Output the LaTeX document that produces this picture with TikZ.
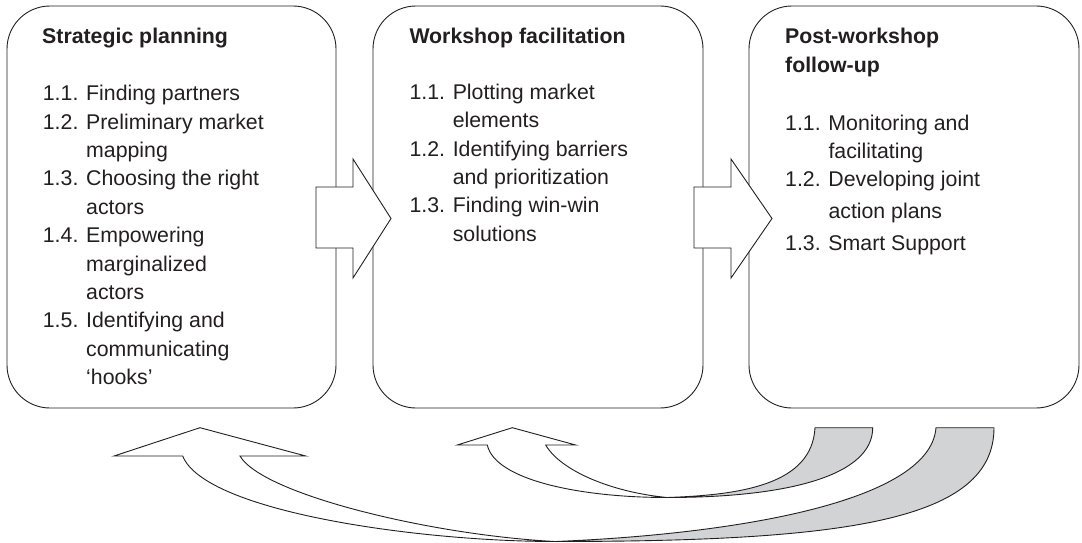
\documentclass[tikz,border=0pt]{standalone}
\usepackage{fontspec}
\setmainfont{Liberation Sans}
\usepackage{array}
\definecolor{ink}{HTML}{231F20}
\definecolor{bandgray}{HTML}{D1D3D4}
\begin{document}
\begin{tikzpicture}[x=1pt,y=-1pt,
  stagebox/.style={draw=ink, line width=0.9pt, rounded corners=43pt, inner sep=0pt, fill=white},
  blockarrow/.style={draw=ink, line width=0.9pt, fill=white, line join=miter},
  bandfront/.style={draw=ink, line width=0.9pt, fill=white, line join=miter},
  bandback/.style={draw=ink, line width=0.9pt, fill=bandgray, line join=miter},
  heading/.style={anchor=base west, inner sep=0pt, text=ink,
    font=\bfseries\fontsize{21.3}{29.4}\selectfont},
  steps/.style={anchor=base west, inner sep=0pt, text=ink,
    font=\fontsize{21.3}{28.4}\selectfont}]
\useasboundingbox (0,0) rectangle (1082,543);

% the three stages
\node[stagebox, minimum width=329pt, minimum height=402pt] (plan) at (171.5,207) {};
\node[stagebox, minimum width=330pt, minimum height=402pt] (work) at (538,207) {};
\node[stagebox, minimum width=330pt, minimum height=402pt] (post) at (914,207) {};

% headings
\node[heading] (planhead) at (42,43.3) {Strategic planning};
\node[heading] (workhead) at (409.3,43.3) {Workshop facilitation};
\node[heading] (posthead) at (785,43.3)
  {\begin{tabular}[t]{@{}l@{}}Post-workshop\\follow-up\end{tabular}};

% step lists
\node[steps] (planlist) at (42.7,100.7) {\begin{tabular}[t]{@{}p{43.3pt}@{}l@{}}
1.1. & Finding partners\\
1.2. & Preliminary market\\
     & mapping\\
1.3. & Choosing the right\\
     & actors\\
1.4. & Empowering\\
     & marginalized\\
     & actors\\
1.5. & Identifying and\\
     & communicating\\
     & ‘hooks’
\end{tabular}};

\node[steps] (worklist) at (409.3,99.3) {\begin{tabular}[t]{@{}p{43.3pt}@{}l@{}}
1.1. & Plotting market\\
     & elements\\
1.2. & Identifying barriers\\
     & and prioritization\\
1.3. & Finding win-win\\
     & solutions
\end{tabular}};

\node[steps] (postlist) at (785,130) {\begin{tabular}[t]{@{}p{43.3pt}@{}l@{}}
1.1. & Monitoring and\\
     & facilitating\\
1.2. & Developing joint\\[3.3pt]
     & action plans\\[3.3pt]
1.3. & Smart Support
\end{tabular}};

% block arrows between the stages
\draw[blockarrow] (316,187) -- (353,187) -- (353,159) -- (391,218.5)
  -- (353,278) -- (353,248) -- (316,248) -- cycle;
\draw[blockarrow] (694,187) -- (731,187) -- (731,159) -- (772,218.5)
  -- (731,278) -- (731,248) -- (694,248) -- cycle;

% long return ribbon: shaded back half, then white front half with head
\draw[bandback] (555,541.5) .. controls (850,541.5) and (994,520) .. (994,427.7)
  -- (936,427.7) .. controls (930,505) and (720,535) .. (555,541.5) -- cycle;
\draw[bandfront] (182.7,456) -- (114,456) -- (200,427.7) -- (305.7,456) -- (240,456)
  .. controls (262,494) and (430,535) .. (555,541.5)
  .. controls (420,541.5) and (205,512) .. (182.7,456) -- cycle;

% short return ribbon
\draw[bandback] (667,497.5) .. controls (790,497.5) and (872.7,475) .. (872.7,427.7)
  -- (815,427.7) .. controls (812,485) and (740,495) .. (667,497.5) -- cycle;
\draw[bandfront] (487.3,445) -- (457.3,445) -- (512.3,427.7) -- (575.7,445) -- (545.7,445)
  .. controls (560,470) and (610,492) .. (667,497.5)
  .. controls (580,497.5) and (495,480) .. (487.3,445) -- cycle;
\end{tikzpicture}
\end{document}
